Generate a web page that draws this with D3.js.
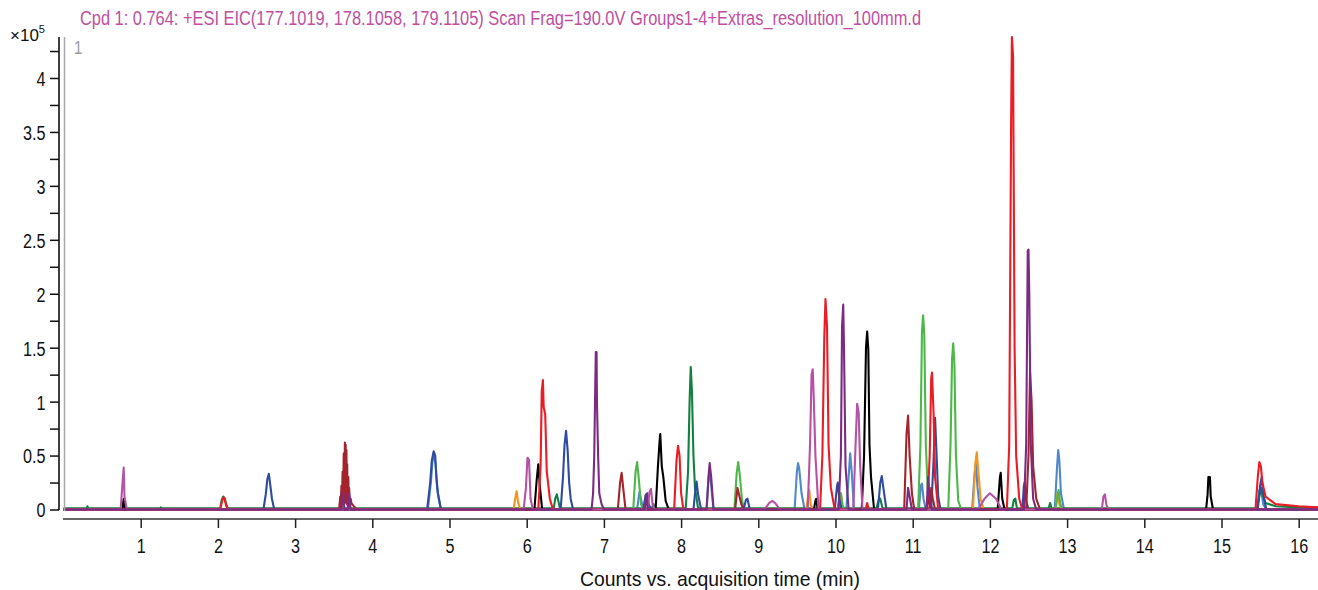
<!DOCTYPE html>
<html>
<head>
<meta charset="utf-8">
<script src="https://cdn.jsdelivr.net/npm/d3@7/dist/d3.min.js"></script>
<style>
  html, body { margin: 0; padding: 0; background: #fff; }
  svg { display: block; }
  text { font-family: "Liberation Sans", Arial, sans-serif; }
</style>
</head>
<body>
<svg id="chart" width="1318" height="590"></svg>
<script>
// Extracted ion chromatograms, intensity in units of 1e5 counts, time in minutes.
const xTicks = [1, 2, 3, 4, 5, 6, 7, 8, 9, 10, 11, 12, 13, 14, 15, 16];
const yMajorTicks = [0, 0.5, 1, 1.5, 2, 2.5, 3, 3.5, 4];
const yMinorTicks = [0.25, 0.75, 1.25, 1.75, 2.25, 2.75, 3.25, 3.75, 4.25];

const lightBlueTrace = [
  [0, 0], [4.72, 0], [4.76, 0.26], [4.78, 0.45], [4.80, 0.5], [4.82, 0.42], [4.84, 0.2], [4.86, 0.1], [4.89, 0],
  [7.43, 0], [7.46, 0.16], [7.48, 0.1], [7.51, 0],
  [8.33, 0], [8.355, 0.3], [8.37, 0.35], [8.39, 0.22], [8.42, 0],
  [9.47, 0], [9.50, 0.35], [9.515, 0.43], [9.53, 0.38], [9.56, 0.15], [9.60, 0],
  [10.14, 0], [10.17, 0.3], [10.19, 0.52], [10.21, 0.35], [10.24, 0],
  [11.08, 0], [11.105, 0.22], [11.12, 0.24], [11.14, 0.1], [11.17, 0],
  [11.77, 0], [11.80, 0.32], [11.82, 0.42], [11.84, 0.2], [11.87, 0],
  [12.84, 0], [12.87, 0.4], [12.885, 0.55], [12.90, 0.45], [12.92, 0.15], [12.96, 0],
  [15.46, 0], [15.49, 0.18], [15.51, 0.2], [15.54, 0.05], [15.58, 0], [16.25, 0]
];

const darkGreenTrace = [
  [0, 0.01], [0.3, 0.01], [0.31, 0.03], [0.32, 0.01], [1.25, 0.01], [1.26, 0.02], [1.27, 0.01],
  [2.03, 0.01], [2.05, 0.09], [2.07, 0.12], [2.09, 0.1], [2.12, 0.02], [2.15, 0.01],
  [6.35, 0.01], [6.37, 0.1], [6.39, 0.14], [6.41, 0.08], [6.43, 0.01],
  [7.62, 0.01], [7.64, 0.05], [7.67, 0.01],
  [8.06, 0.01], [8.09, 0.35], [8.11, 1.0], [8.125, 1.32], [8.14, 1.1], [8.16, 0.5], [8.18, 0.2], [8.22, 0.01],
  [10.53, 0.01], [10.56, 0.09], [10.58, 0.1], [10.61, 0.01],
  [12.29, 0.01], [12.31, 0.09], [12.33, 0.1], [12.35, 0.01],
  [12.76, 0.01], [12.78, 0.06], [12.80, 0.01],
  [15.46, 0.01], [15.49, 0.12], [15.51, 0.2], [15.53, 0.14], [15.57, 0.06], [15.7, 0.03], [16.0, 0.02], [16.25, 0.02]
];

const orangeTrace = [
  [0, 0], [5.83, 0], [5.86, 0.14], [5.87, 0.17], [5.89, 0.06], [5.92, 0],
  [7.52, 0], [7.54, 0.13], [7.56, 0.15], [7.58, 0.04], [7.61, 0],
  [9.62, 0], [9.65, 0.15], [9.66, 0.18], [9.68, 0.04], [9.71, 0],
  [10.03, 0], [10.06, 0.13], [10.07, 0.15], [10.09, 0.03], [10.12, 0],
  [11.78, 0], [11.81, 0.42], [11.83, 0.53], [11.85, 0.35], [11.88, 0.1], [11.92, 0],
  [12.85, 0], [12.87, 0.13], [12.88, 0.16], [12.90, 0.05], [12.93, 0], [16.25, 0]
];

const lightGreenTrace = [
  [0, 0], [7.38, 0], [7.41, 0.35], [7.43, 0.44], [7.45, 0.3], [7.48, 0.05], [7.51, 0],
  [8.69, 0], [8.72, 0.34], [8.74, 0.44], [8.76, 0.32], [8.79, 0.08], [8.82, 0],
  [10.03, 0], [10.05, 0.12], [10.07, 0.15], [10.09, 0.04], [10.12, 0],
  [11.07, 0], [11.10, 0.6], [11.12, 1.65], [11.135, 1.8], [11.15, 1.62], [11.17, 0.6], [11.20, 0.1], [11.24, 0],
  [11.46, 0], [11.49, 0.6], [11.51, 1.4], [11.525, 1.54], [11.54, 1.35], [11.56, 0.5], [11.59, 0.08], [11.63, 0],
  [12.85, 0], [12.88, 0.15], [12.89, 0.18], [12.91, 0.06], [12.94, 0], [16.25, 0]
];

const darkBlueTrace = [
  [0, 0], [0.76, 0], [0.78, 0.04], [0.80, 0],
  [2.59, 0], [2.62, 0.14], [2.64, 0.28], [2.66, 0.33], [2.68, 0.22], [2.70, 0.1], [2.73, 0],
  [4.71, 0], [4.75, 0.25], [4.77, 0.45], [4.795, 0.54], [4.815, 0.5], [4.83, 0.3], [4.85, 0.15], [4.89, 0],
  [6.44, 0], [6.47, 0.3], [6.49, 0.6], [6.51, 0.73], [6.53, 0.55], [6.55, 0.25], [6.57, 0.1], [6.60, 0],
  [7.51, 0], [7.54, 0.13], [7.56, 0.15], [7.58, 0.05], [7.61, 0],
  [8.16, 0], [8.19, 0.22], [8.20, 0.26], [8.22, 0.14], [8.26, 0],
  [8.81, 0], [8.84, 0.09], [8.86, 0.1], [8.89, 0],
  [9.99, 0], [10.02, 0.22], [10.03, 0.25], [10.05, 0.1], [10.08, 0],
  [10.55, 0], [10.58, 0.25], [10.60, 0.31], [10.62, 0.2], [10.66, 0],
  [11.24, 0], [11.27, 0.45], [11.29, 0.85], [11.31, 0.5], [11.33, 0.12], [11.36, 0],
  [12.42, 0], [12.44, 0.22], [12.45, 0.25], [12.47, 0.08], [12.50, 0],
  [15.47, 0], [15.50, 0.22], [15.52, 0.3], [15.54, 0.15], [15.58, 0], [16.25, 0]
];

const blackTrace = [
  [0, 0], [0.76, 0], [0.78, 0.1], [0.80, 0],
  [6.10, 0], [6.13, 0.28], [6.15, 0.42], [6.17, 0.22], [6.20, 0],
  [7.67, 0], [7.70, 0.4], [7.72, 0.62], [7.73, 0.7], [7.75, 0.4], [7.77, 0.3], [7.80, 0.08], [7.84, 0],
  [9.72, 0], [9.74, 0.08], [9.75, 0.1], [9.77, 0],
  [10.34, 0], [10.37, 0.5], [10.395, 1.5], [10.41, 1.65], [10.425, 1.48], [10.44, 0.6], [10.46, 0.3], [10.50, 0],
  [11.18, 0], [11.20, 0.14], [11.22, 0.05], [11.24, 0],
  [12.10, 0], [12.13, 0.3], [12.14, 0.34], [12.16, 0.1], [12.19, 0],
  [14.80, 0], [14.82, 0.14], [14.83, 0.3], [14.85, 0.3], [14.86, 0.12], [14.89, 0], [16.25, 0]
];

const darkRedTrace = [
  [0, 0], [3.57, 0], [3.585, 0.12], [3.59, 0.02], [3.60, 0.22], [3.605, 0.03], [3.615, 0.35],
  [3.62, 0.05], [3.63, 0.52], [3.635, 0.06], [3.645, 0.62], [3.65, 0.08], [3.655, 0.6],
  [3.66, 0.06], [3.665, 0.55], [3.67, 0.05], [3.675, 0.42], [3.68, 0.04], [3.69, 0.3],
  [3.695, 0.03], [3.70, 0.2], [3.71, 0.04], [3.72, 0.1], [3.73, 0.06], [3.76, 0.03], [3.80, 0],
  [7.18, 0], [7.21, 0.25], [7.23, 0.34], [7.25, 0.2], [7.28, 0],
  [8.70, 0], [8.73, 0.2], [8.75, 0.14], [8.78, 0.05], [8.81, 0],
  [10.89, 0], [10.92, 0.7], [10.94, 0.87], [10.96, 0.5], [10.99, 0.15], [11.02, 0],
  [11.22, 0], [11.24, 0.2], [11.26, 0.1], [11.29, 0],
  [12.47, 0], [12.50, 0.5], [12.52, 1.28], [12.54, 1.0], [12.56, 0.4], [12.60, 0.1], [12.65, 0], [16.25, 0]
];

const redTrace = [
  [0, 0], [2.03, 0], [2.06, 0.1], [2.08, 0.11], [2.11, 0.03], [2.14, 0],
  [6.15, 0], [6.18, 0.4], [6.195, 1.1], [6.21, 1.2], [6.22, 0.95], [6.24, 0.88], [6.26, 0.35], [6.30, 0.1], [6.34, 0],
  [7.91, 0], [7.94, 0.45], [7.96, 0.59], [7.98, 0.5], [8.00, 0.15], [8.03, 0],
  [9.80, 0], [9.83, 0.5], [9.855, 1.6], [9.87, 1.95], [9.89, 1.7], [9.91, 0.6], [9.94, 0.2], [9.99, 0],
  [10.39, 0], [10.41, 0.06], [10.43, 0],
  [11.19, 0], [11.22, 0.5], [11.24, 1.22], [11.25, 1.27], [11.27, 0.9], [11.29, 0.3], [11.33, 0],
  [12.22, 0], [12.25, 0.6], [12.275, 3.6], [12.285, 4.38], [12.30, 4.2], [12.32, 1.5], [12.34, 0.5], [12.38, 0.1], [12.42, 0],
  [15.44, 0], [15.47, 0.3], [15.49, 0.44], [15.51, 0.4], [15.53, 0.25], [15.57, 0.12], [15.7, 0.05], [16.0, 0.03], [16.25, 0.02]
];

const pinkTrace = [
  [0, 0], [0.74, 0], [0.76, 0.2], [0.78, 0.39], [0.79, 0.12], [0.82, 0],
  [5.96, 0], [5.99, 0.2], [6.01, 0.48], [6.03, 0.46], [6.05, 0.1], [6.08, 0],
  [7.57, 0], [7.59, 0.16], [7.61, 0.19], [7.63, 0.05], [7.66, 0],
  [9.08, 0], [9.14, 0.06], [9.18, 0.08], [9.22, 0.06], [9.28, 0],
  [9.64, 0], [9.67, 0.6], [9.69, 1.25], [9.705, 1.3], [9.72, 1.0], [9.74, 0.5], [9.78, 0],
  [10.23, 0], [10.26, 0.6], [10.28, 0.98], [10.30, 0.9], [10.32, 0.4], [10.35, 0],
  [11.85, 0], [11.93, 0.1], [12.00, 0.15], [12.08, 0.1], [12.15, 0],
  [13.45, 0], [13.47, 0.12], [13.49, 0.14], [13.51, 0.04], [13.54, 0], [16.25, 0]
];

const purpleTrace = [
  [0, 0], [3.60, 0], [3.62, 0.15], [3.64, 0], [3.68, 0], [3.70, 0.15], [3.72, 0],
  [6.84, 0], [6.86, 0.15], [6.875, 0.5], [6.885, 1.0], [6.895, 1.46], [6.905, 1.46], [6.91, 1.0],
  [6.925, 0.5], [6.94, 0.15], [6.97, 0.05], [7.00, 0],
  [7.53, 0], [7.55, 0.13], [7.57, 0],
  [8.33, 0], [8.36, 0.35], [8.37, 0.43], [8.39, 0.3], [8.42, 0],
  [10.04, 0], [10.07, 0.5], [10.085, 1.7], [10.10, 1.9], [10.11, 1.5], [10.13, 0.4], [10.17, 0],
  [10.92, 0], [10.94, 0.2], [10.96, 0.12], [10.99, 0],
  [11.18, 0], [11.20, 0.3], [11.22, 0.1], [11.25, 0],
  [12.44, 0], [12.47, 0.6], [12.49, 2.4], [12.50, 2.41], [12.51, 2.0], [12.53, 0.6], [12.56, 0.1], [12.60, 0], [16.25, 0]
];

const traces = [
  { data: lightBlueTrace, color: "#4f89c9" },
  { data: darkGreenTrace, color: "#118040" },
  { data: orangeTrace, color: "#f7931e" },
  { data: lightGreenTrace, color: "#4db848" },
  { data: darkBlueTrace, color: "#2d4ba0" },
  { data: blackTrace, color: "#000000" },
  { data: darkRedTrace, color: "#a3242b" },
  { data: redTrace, color: "#ec1c24" },
  { data: pinkTrace, color: "#b652a6" },
  { data: purpleTrace, color: "#7b2b81" }
];

const svg = d3.select("#chart");
const narrow = "scale(0.79,1)";

const x = d3.scaleLinear().domain([0, 16.25]).range([63.5, 1318]);
const y = d3.scaleLinear().domain([0, 4.38]).range([509.5, 37]);

// Chromatogram traces
const line = d3.line().x(d => x(d[0])).y(d => y(d[1]));
svg.append("g")
  .selectAll("path")
  .data(traces)
  .join("path")
  .attr("d", d => line(d.data))
  .attr("fill", "none")
  .attr("stroke", d => d.color)
  .attr("stroke-width", 2.1)
  .attr("stroke-linejoin", "round");

// Panel separator line
svg.append("line")
  .attr("x1", 64.5).attr("x2", 64.5)
  .attr("y1", 37).attr("y2", 511)
  .attr("stroke", "#a8a8a8").attr("stroke-width", 1.5);

// Y axis
const yAxis = svg.append("g").attr("transform", "translate(59,0)");
yAxis.append("line")
  .attr("x1", 0).attr("x2", 0).attr("y1", 37).attr("y2", 510)
  .attr("stroke", "#111").attr("stroke-width", 1.6);
yAxis.append("g")
  .call(d3.axisLeft(y).tickValues(yMajorTicks).tickSize(9).tickPadding(0).tickFormat(d3.format("~g")))
  .call(g => g.select(".domain").remove())
  .call(g => g.selectAll(".tick line").attr("stroke", "#111").attr("stroke-width", 1.5))
  .call(g => g.selectAll(".tick text")
    .attr("x", -17).attr("dy", "0.36em").attr("transform", narrow)
    .attr("font-size", 20.5).attr("fill", "#111"));
yAxis.append("g")
  .call(d3.axisLeft(y).tickValues(yMinorTicks).tickSize(9).tickFormat(""))
  .call(g => g.select(".domain").remove())
  .call(g => g.selectAll(".tick line").attr("stroke", "#111").attr("stroke-width", 1.5));

// X axis
const xAxis = svg.append("g").attr("transform", "translate(0,519)");
xAxis.append("line")
  .attr("x1", 63).attr("x2", 1318).attr("y1", 0).attr("y2", 0)
  .attr("stroke", "#333").attr("stroke-width", 1.6);
xAxis.append("g")
  .call(d3.axisBottom(x).tickValues(xTicks).tickSize(9).tickPadding(10).tickFormat(d3.format("d")))
  .call(g => g.select(".domain").remove())
  .call(g => g.selectAll(".tick line").attr("stroke", "#222").attr("stroke-width", 1.5))
  .call(g => g.selectAll(".tick text")
    .attr("transform", narrow)
    .attr("font-size", 20.5).attr("fill", "#111"));

// Axis titles and annotations
svg.append("text")
  .attr("x", 580).attr("y", 586)
  .attr("font-size", 21).attr("fill", "#111")
  .attr("textLength", 280).attr("lengthAdjust", "spacingAndGlyphs")
  .text("Counts vs. acquisition time (min)");

const scaleLabel = svg.append("text").attr("x", 10).attr("y", 41).attr("font-size", 17).attr("fill", "#111");
scaleLabel.append("tspan").text("×10");
scaleLabel.append("tspan").attr("dy", -8).attr("font-size", 11).text("5");

svg.append("text")
  .attr("x", 80).attr("y", 25)
  .attr("font-size", 19.5).attr("fill", "#c0509f")
  .attr("textLength", 841).attr("lengthAdjust", "spacingAndGlyphs")
  .text("Cpd 1: 0.764: +ESI EIC(177.1019, 178.1058, 179.1105) Scan Frag=190.0V Groups1-4+Extras_resolution_100mm.d");

svg.append("text")
  .attr("x", 74).attr("y", 54)
  .attr("font-size", 19).attr("fill", "#9a9a9a")
  .attr("transform", "translate(15.5,0) scale(0.79,1)")
  .text("1");
</script>
</body>
</html>
